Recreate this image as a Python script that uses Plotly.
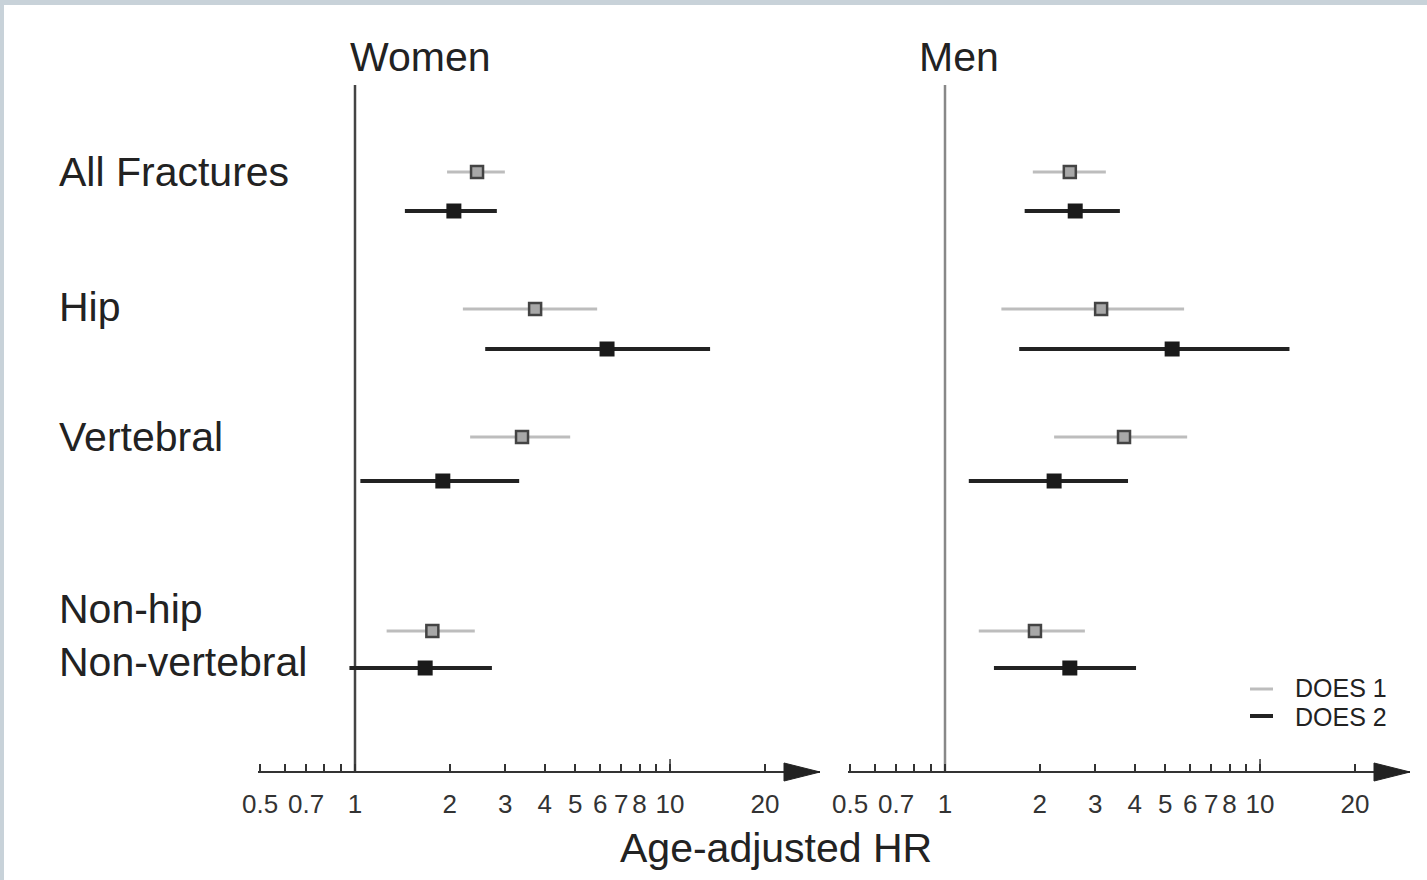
import plotly.graph_objects as go

# ---------------- data ----------------
groups = ["All Fractures", "Hip", "Vertebral", "Non-hip<br>Non-vertebral"]
panels = ["Women", "Men"]
series = ["DOES 1", "DOES 2"]

women_does1_hr = [2.44, 3.73, 3.39, 1.76]
women_does1_lo = [1.96, 2.20, 2.32, 1.26]
women_does1_hi = [2.99, 5.87, 4.82, 2.40]
women_does2_hr = [2.06, 6.31, 1.90, 1.67]
women_does2_lo = [1.44, 2.59, 1.04, 0.96]
women_does2_hi = [2.82, 13.4, 3.32, 2.72]

men_does1_hr = [2.49, 3.13, 3.70, 1.93]
men_does1_lo = [1.90, 1.51, 2.22, 1.28]
men_does1_hi = [3.24, 5.74, 5.87, 2.78]
men_does2_hr = [2.59, 5.26, 2.22, 2.49]
men_does2_lo = [1.79, 1.72, 1.19, 1.43]
men_does2_hi = [3.59, 12.4, 3.81, 4.04]

tick_vals = [0.5, 0.6, 0.7, 0.8, 0.9, 1, 2, 3, 4, 5, 6, 7, 8, 9, 10, 20]
tick_text = ["0.5", "", "0.7", "", "", "1", "2", "3", "4", "5", "6", "7", "8", "", "10", "20"]

# ---------------- layout constants ----------------
W, H = 1427, 880
FONT = "Arial, Liberation Sans, sans-serif"
row_y_does1 = [172, 309, 437, 631]
row_y_does2 = [211, 349, 481, 668]
label_y = [172, 307, 437, 635]
axis_y = 772
ref_top = 85
x_range = [-0.3079, 1.476]
domains = [[258 / W, 820 / W], [848 / W, 1410 / W]]
title_x = [420, 959]

DOES1_LINE = "#bdbdbd"
DOES2_LINE = "#222222"


def px(x):
    return x / W


def py(y):
    return 1 - y / H


fig = go.Figure()

data = {
    ("Women", 0): (women_does1_hr, women_does1_lo, women_does1_hi),
    ("Women", 1): (women_does2_hr, women_does2_lo, women_does2_hi),
    ("Men", 0): (men_does1_hr, men_does1_lo, men_does1_hi),
    ("Men", 1): (men_does2_hr, men_does2_lo, men_does2_hi),
}

for pi, panel in enumerate(panels):
    xa = "x" if pi == 0 else "x2"
    # reference line at HR = 1
    fig.add_trace(go.Scatter(
        x=[1, 1], y=[ref_top, axis_y], mode="lines", xaxis=xa, yaxis="y",
        line=dict(color="#444444" if pi == 0 else "#888888", width=2.5),
        showlegend=False, hoverinfo="skip"))
    # taller tick at 10
    fig.add_trace(go.Scatter(
        x=[10, 10], y=[axis_y, axis_y - 13], mode="lines", xaxis=xa, yaxis="y",
        line=dict(color="#333333", width=1.5), showlegend=False, hoverinfo="skip"))
    for si in range(2):
        hr, lo, hi = data[(panel, si)]
        ys = row_y_does1 if si == 0 else row_y_does2
        if si == 0:
            marker = dict(symbol="square", size=12, color="#a8a8a8",
                          line=dict(color="#444444", width=2.5))
            ecol, ew = DOES1_LINE, 3
        else:
            marker = dict(symbol="square", size=15, color="#1a1a1a",
                          line=dict(color="#1a1a1a", width=0))
            ecol, ew = DOES2_LINE, 4
        fig.add_trace(go.Scatter(
            x=hr, y=ys, mode="markers", xaxis=xa, yaxis="y",
            marker=marker, name=series[si], showlegend=False,
            error_x=dict(type="data", symmetric=False,
                         array=[h - m for h, m in zip(hi, hr)],
                         arrayminus=[m - l for m, l in zip(hr, lo)],
                         color=ecol, thickness=ew, width=0),
            cliponaxis=False))

axis_common = dict(
    type="log", range=x_range, anchor="free", position=py(axis_y),
    automargin=False,
    showline=True, linecolor="#333333", linewidth=2,
    showgrid=False, zeroline=False,
    tickmode="array", tickvals=tick_vals, ticktext=tick_text,
    ticks="inside", ticklen=7, tickwidth=1.5, tickcolor="#333333",
    tickfont=dict(family=FONT, size=26, color="#333333"),
    ticklabelstandoff=9,
)

fig.update_layout(
    width=W, height=H,
    margin=dict(l=0, r=0, t=0, b=0, pad=0, autoexpand=False),
    paper_bgcolor="#c8d2d9",
    plot_bgcolor="rgba(0,0,0,0)",
    showlegend=False,
    xaxis=dict(domain=domains[0], **axis_common),
    xaxis2=dict(domain=domains[1], **axis_common),
    yaxis=dict(range=[H, 0], domain=[0, 1], visible=False, fixedrange=True,
               automargin=False),
)

shapes = [
    dict(type="rect", xref="paper", yref="paper", x0=px(4), x1=1, y0=0, y1=py(5),
         fillcolor="white", line=dict(width=0), layer="below"),
]
# arrowheads at the end of each axis
for d in domains:
    tip = d[1] * W
    shapes.append(dict(
        type="path", xref="paper", yref="paper",
        path=f"M {px(tip - 36)} {py(axis_y - 9)} L {px(tip)} {py(axis_y)} L {px(tip - 36)} {py(axis_y + 9)} Z",
        fillcolor="#222222", line=dict(color="#222222", width=1)))
# legend swatches
shapes.append(dict(type="line", xref="paper", yref="paper", x0=px(1250), x1=px(1273),
                   y0=py(689), y1=py(689), line=dict(color=DOES1_LINE, width=3)))
shapes.append(dict(type="line", xref="paper", yref="paper", x0=px(1250), x1=px(1273),
                   y0=py(716), y1=py(716), line=dict(color=DOES2_LINE, width=4)))
fig.update_layout(shapes=shapes)

ann = []
for pi, panel in enumerate(panels):
    ann.append(dict(text=panel, x=px(title_x[pi]), y=py(57), xref="paper", yref="paper",
                    showarrow=False, xanchor="center", yanchor="middle",
                    font=dict(family=FONT, size=41, color="#222222")))
for g, yv in zip(groups, label_y):
    ann.append(dict(text=g, x=px(57), y=py(yv), xref="paper", yref="paper",
                    showarrow=False, xanchor="left", yanchor="middle", align="left",
                    font=dict(family=FONT, size=41, color="#222222")))
for s, yv in zip(series, [688, 717]):
    ann.append(dict(text=s, x=px(1293), y=py(yv), xref="paper", yref="paper",
                    showarrow=False, xanchor="left", yanchor="middle",
                    font=dict(family=FONT, size=25, color="#222222")))
ann.append(dict(text="Age-adjusted HR", x=px(776), y=py(848), xref="paper", yref="paper",
                showarrow=False, xanchor="center", yanchor="middle",
                font=dict(family=FONT, size=41, color="#222222")))
fig.update_layout(annotations=ann)

fig.write_html("out.html")
